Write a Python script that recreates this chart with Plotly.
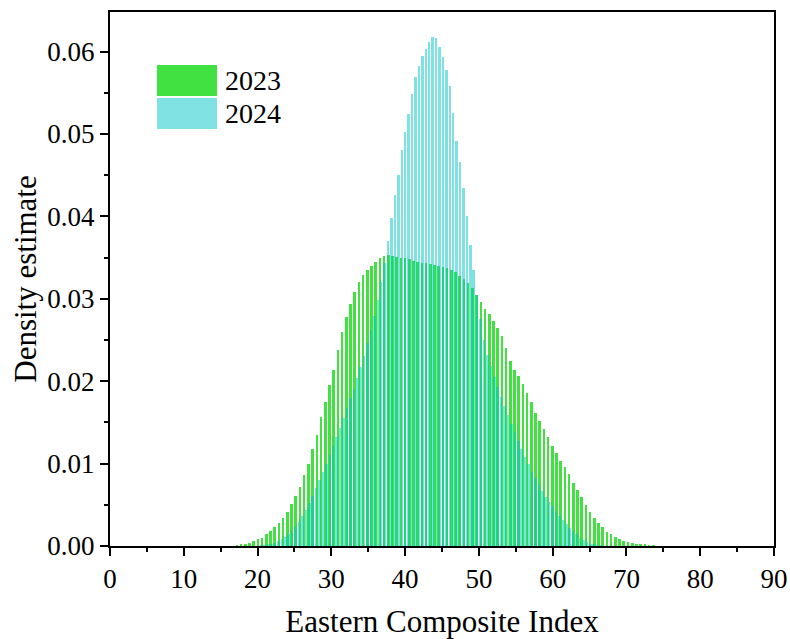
import plotly.graph_objects as go

# ---- data ----
x2023_start, x2023_step = 17.2, 0.57
d2023 = [0.0001, 0.0002, 0.0003, 0.0004, 0.0006, 0.0008, 0.0010, 0.0014, 0.0018, 0.0023,
         0.0028, 0.0034, 0.0041, 0.0051, 0.0061, 0.0072, 0.0086, 0.0099, 0.0118, 0.0135,
         0.0156, 0.0175, 0.0195, 0.0213, 0.0238, 0.0260, 0.0278, 0.0294, 0.0308, 0.0320,
         0.0329, 0.0335, 0.0340, 0.0345, 0.0350, 0.0352, 0.0353, 0.0352, 0.0351, 0.0350,
         0.0349, 0.0348, 0.0346, 0.0345, 0.0344, 0.0343, 0.0342, 0.0341, 0.0340, 0.0339,
         0.0337, 0.0335, 0.0332, 0.0328, 0.0324, 0.0319, 0.0313, 0.0305, 0.0296, 0.0288,
         0.0281, 0.0273, 0.0264, 0.0255, 0.0240, 0.0225, 0.0213, 0.0206, 0.0197, 0.0186,
         0.0175, 0.0162, 0.0152, 0.0142, 0.0132, 0.0121, 0.0113, 0.0103, 0.0096, 0.0087,
         0.0077, 0.0068, 0.0059, 0.0050, 0.0041, 0.0034, 0.0028, 0.0023, 0.0017, 0.0014,
         0.0011, 0.0009, 0.0006, 0.0005, 0.0004, 0.0003, 0.0002, 0.0002, 0.0001, 0.0001]

x2024_start, x2024_step = 20.5, 0.4646
d2024 = [0.0001, 0.0001, 0.0002, 0.0003, 0.0004, 0.0006, 0.0008, 0.0011, 0.0014, 0.0018,
         0.0023, 0.0029, 0.0036, 0.0044, 0.0052, 0.0061, 0.0070, 0.0080, 0.0090, 0.0100,
         0.0110, 0.0121, 0.0132, 0.0143, 0.0155, 0.0167, 0.0179, 0.0191, 0.0204, 0.0217,
         0.0231, 0.0246, 0.0262, 0.0279, 0.0298, 0.0320, 0.0344, 0.0370, 0.0398, 0.0426,
         0.0450, 0.0480, 0.0502, 0.0524, 0.0548, 0.0569, 0.0583, 0.0595, 0.0603, 0.0611,
         0.0618, 0.0616, 0.0606, 0.0594, 0.0578, 0.0558, 0.0526, 0.0492, 0.0466, 0.0435,
         0.0400, 0.0365, 0.0335, 0.0305, 0.0275, 0.0250, 0.0232, 0.0218, 0.0205, 0.0193,
         0.0181, 0.0170, 0.0159, 0.0148, 0.0138, 0.0128, 0.0118, 0.0108, 0.0099, 0.0090,
         0.0082, 0.0074, 0.0067, 0.0060, 0.0054, 0.0048, 0.0042, 0.0036, 0.0031, 0.0027,
         0.0022, 0.0018, 0.0014, 0.0010, 0.0007, 0.0005, 0.0003, 0.0002, 0.0001, 0.0001]

x2023 = [round(x2023_start + i * x2023_step, 4) for i in range(len(d2023))]
x2024 = [round(x2024_start + i * x2024_step, 4) for i in range(len(d2024))]

series_names = ["2023", "2024"]
x_title = "Eastern Composite Index"
y_title = "Density estimate"

# ---- styles ----
GREEN = "#41E141"
CYAN = "rgba(0,198,198,0.5)"
FONT = "Liberation Serif"

fig = go.Figure()
fig.add_trace(go.Bar(x=x2023, y=d2023, width=x2023_step * 0.62, name=series_names[0],
                     marker=dict(color=GREEN, line=dict(width=0)), showlegend=False))
fig.add_trace(go.Bar(x=x2024, y=d2024, width=x2024_step * 0.74, name=series_names[1],
                     marker=dict(color=CYAN, line=dict(width=0)), showlegend=False))

L, R, T, B = 110, 774, 12, 546
W, H = 790, 639
pw, ph = R - L, B - T


def px(x):
    return (x - L) / pw


def py(y):
    return (B - y) / ph


# legend drawn as swatches + text
legend_items = [(series_names[0], GREEN, 65, 96), (series_names[1], "#80E2E2", 98, 129)]
shapes = []
annotations = []
for name, col, y0, y1 in legend_items:
    shapes.append(dict(type="rect", xref="paper", yref="paper",
                       x0=px(157), x1=px(217), y0=py(y1), y1=py(y0),
                       fillcolor=col, line=dict(width=0), layer="above"))
    annotations.append(dict(text=name, xref="paper", yref="paper", x=px(223),
                            y=py((y0 + y1) / 2), xanchor="left", yanchor="middle",
                            showarrow=False, font=dict(family=FONT, size=28, color="black")))

fig.update_layout(
    width=W, height=H,
    margin=dict(l=L, r=W - R, t=T, b=H - B, pad=0),
    paper_bgcolor="white", plot_bgcolor="white",
    barmode="overlay", bargap=0,
    font=dict(family=FONT, size=27, color="black"),
    shapes=shapes, annotations=annotations,
)
fig.update_xaxes(
    range=[0, 90], tickmode="linear", tick0=0, dtick=10, automargin=False,
    ticks="outside", ticklen=8, tickwidth=2, tickcolor="black",
    minor=dict(ticks="outside", ticklen=4, tickwidth=2, tickcolor="black", dtick=5),
    showline=True, linecolor="black", linewidth=2, mirror=True,
    showgrid=False, zeroline=False,
    tickfont=dict(family=FONT, size=27),
    title=dict(text=x_title, font=dict(family=FONT, size=31), standoff=24),
)
fig.update_yaxes(
    range=[0, 0.0648], tickmode="linear", tick0=0, dtick=0.01, tickformat=".2f",
    automargin=False,
    ticks="outside", ticklen=8, tickwidth=2, tickcolor="black",
    minor=dict(ticks="outside", ticklen=4, tickwidth=2, tickcolor="black", dtick=0.005),
    showline=True, linecolor="black", linewidth=2, mirror=True,
    showgrid=False, zeroline=False,
    tickfont=dict(family=FONT, size=27),
    title=dict(text=y_title, font=dict(family=FONT, size=31), standoff=1),
)

fig.write_html("out.html")
